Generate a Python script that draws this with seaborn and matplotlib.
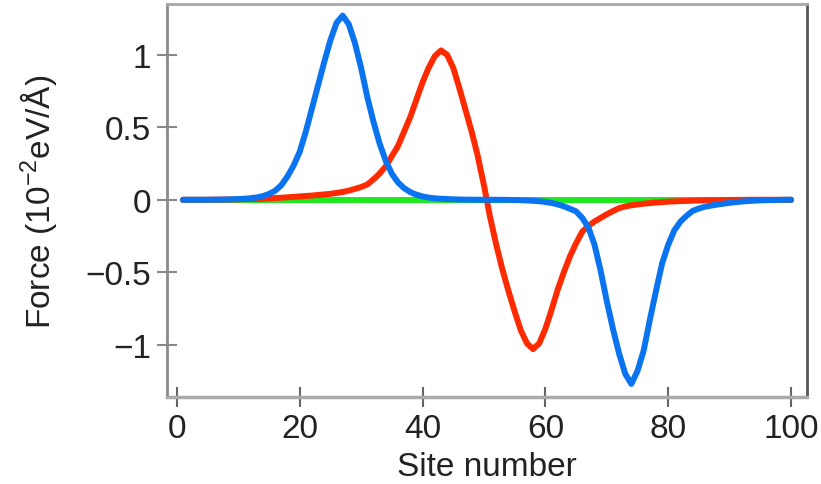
import numpy as np
import pandas as pd
import matplotlib
matplotlib.use("Agg")
import matplotlib.pyplot as plt
import seaborn as sns

# Site index along the chain
sites = list(range(1, 101))

# Force values (units of 1e-2 eV/A)
blue_force = [
    0, 0, 0, 0, 0, 0.0005, 0.001, 0.002, 0.003, 0.005,
    0.007, 0.011, 0.016, 0.025, 0.040, 0.062, 0.10, 0.16, 0.235, 0.33,
    0.47, 0.63, 0.79, 0.95, 1.10, 1.22, 1.27, 1.21, 1.08, 0.91,
    0.71, 0.54, 0.39, 0.27, 0.18, 0.12, 0.08, 0.053, 0.035, 0.023,
    0.015, 0.010, 0.007, 0.005, 0.003, 0.002, 0.001, 0.0005, 0, 0,
    0, 0, -0.0005, -0.001, -0.002, -0.003, -0.005, -0.007, -0.010, -0.015,
    -0.022, -0.032, -0.045, -0.062, -0.08, -0.125, -0.19, -0.31, -0.49, -0.70,
    -0.89, -1.06, -1.20, -1.27, -1.18, -1.04, -0.83, -0.63, -0.44, -0.31,
    -0.21, -0.15, -0.11, -0.076, -0.06, -0.048, -0.04, -0.033, -0.027, -0.021,
    -0.016, -0.012, -0.009, -0.006, -0.004, -0.003, -0.002, -0.001, 0, 0,
]
red_force = [
    0, 0, 0, 0, 0, 0.001, 0.001, 0.002, 0.002, 0.003,
    0.004, 0.005, 0.006, 0.008, 0.010, 0.012, 0.014, 0.017, 0.020, 0.023,
    0.026, 0.029, 0.033, 0.037, 0.041, 0.047, 0.054, 0.063, 0.075, 0.088,
    0.105, 0.14, 0.18, 0.23, 0.30, 0.37, 0.47, 0.57, 0.69, 0.81,
    0.91, 0.99, 1.03, 1.00, 0.91, 0.77, 0.62, 0.47, 0.30, 0.10,
    -0.12, -0.31, -0.48, -0.63, -0.77, -0.90, -0.99, -1.03, -0.99, -0.89,
    -0.76, -0.62, -0.50, -0.39, -0.30, -0.22, -0.18, -0.15, -0.125, -0.10,
    -0.078, -0.058, -0.046, -0.038, -0.032, -0.027, -0.023, -0.019, -0.016, -0.013,
    -0.011, -0.009, -0.008, -0.006, -0.005, -0.004, -0.003, -0.003, -0.002, -0.002,
    -0.001, -0.001, 0, 0, 0, 0, 0, 0, 0, 0,
]
green_force = [0.0] * 100

xticks = [0, 20, 40, 60, 80, 100]
yticks = [-1, -0.5, 0, 0.5, 1]
ytick_labels = ["\u22121", "\u22120.5", "0", "0.5", "1"]

df = pd.DataFrame({"site": sites, "blue": blue_force, "red": red_force, "green": green_force})

sns.set_theme(style="white")
plt.rcParams["font.family"] = ["Liberation Sans", "DejaVu Sans"]
plt.rcParams["mathtext.default"] = "regular"

fig, ax = plt.subplots(figsize=(8.21, 4.85), dpi=100)
fig.subplots_adjust(left=0.2034, right=0.983, top=0.9897, bottom=0.1794)

# green under red under blue
line_kw = dict(lw=4.3, ax=ax, estimator=None, solid_joinstyle="round", solid_capstyle="round")
sns.lineplot(data=df, x="site", y="green", color="#1ee81e", **line_kw)
sns.lineplot(data=df, x="site", y="red", color="#ff2a00", **line_kw)
sns.lineplot(data=df, x="site", y="blue", color="#0a74f0", **line_kw)

ax.set_xlim(-1.6, 102.6)
ax.set_ylim(-1.36, 1.35)
ax.set_xticks(xticks)
ax.set_yticks(yticks)
ax.set_yticklabels(ytick_labels)

ax.tick_params(axis="both", bottom=True, left=True, direction="inout", length=15, width=1.5,
               color="#888888", labelcolor="#222222", labelsize=24, pad=4)
ax.tick_params(axis="x", color="#666666")

for side, col, lw in [("left", "#8a8a8a", 2.0), ("bottom", "#aaaaaa", 2.5),
                      ("top", "#a8a8a8", 2.0), ("right", "#555555", 2.0)]:
    ax.spines[side].set_color(col)
    ax.spines[side].set_linewidth(lw)

ax.set_xlabel("Site number", fontsize=24, color="#222222", labelpad=5)
ax.set_ylabel(r"Force (10$^{-2}$eV/Å)", fontsize=24, color="#222222", labelpad=19)

plt.savefig("out.png", dpi=100)
